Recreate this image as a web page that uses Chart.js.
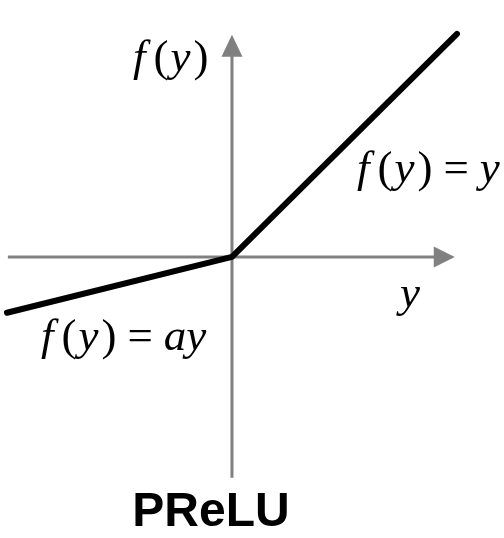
<!DOCTYPE html>
<html>
<head>
<meta charset="utf-8">
<script src="https://cdn.jsdelivr.net/npm/chart.js@4.4.1/dist/chart.umd.min.js"></script>
<style>
  html, body { margin: 0; padding: 0; background: #fff; }
  #wrap { width: 504px; height: 538px; }
</style>
</head>
<body>
<div id="wrap"><canvas id="myChart"></canvas></div>
<script>
// PReLU: f(y) = y for y > 0, f(y) = a*y for y <= 0
const xValues = [-1, 0, 1];
const yValues = [-0.25, 0, 1];
const xRange = [-1.031, 1.209];
const yRange = [-1.26, 1.152];
const title = 'PReLU';

const serif = '"Liberation Serif", "Times New Roman", serif';

// draws a math label made of pieces: [text, italic, gapAfter]
function drawMath(ctx, parts, x, y, size) {
    ctx.textBaseline = 'alphabetic';
    ctx.textAlign = 'left';
    parts.forEach(p => {
        ctx.font = (p[1] ? 'italic ' : '') + size + 'px ' + serif;
        ctx.fillText(p[0], x, y);
        x += ctx.measureText(p[0]).width + (p[2] || 0);
    });
}

const axesPlugin = {
    id: 'axesPlugin',
    beforeDatasetsDraw(chart) {
        const ctx = chart.ctx;
        const xs = chart.scales.x, ys = chart.scales.y;
        const x0 = xs.getPixelForValue(0), y0 = ys.getPixelForValue(0);
        const gray = '#808080';
        ctx.save();
        ctx.strokeStyle = gray;
        ctx.fillStyle = gray;
        ctx.lineWidth = 3;
        // horizontal axis
        const xl = xs.getPixelForValue(-0.996), xr = xs.getPixelForValue(0.99);
        ctx.beginPath();
        ctx.moveTo(xl, y0);
        ctx.lineTo(xr - 18, y0);
        ctx.stroke();
        ctx.beginPath();
        ctx.moveTo(xr, y0);
        ctx.lineTo(xr - 21, y0 - 10.5);
        ctx.lineTo(xr - 21, y0 + 10.5);
        ctx.closePath();
        ctx.fill();
        // vertical axis
        const yb = ys.getPixelForValue(-0.99), yt = ys.getPixelForValue(0.996);
        ctx.beginPath();
        ctx.moveTo(x0, yb);
        ctx.lineTo(x0, yt + 18);
        ctx.stroke();
        ctx.beginPath();
        ctx.moveTo(x0, yt);
        ctx.lineTo(x0 - 10.5, yt + 22);
        ctx.lineTo(x0 + 10.5, yt + 22);
        ctx.closePath();
        ctx.fill();
        ctx.restore();
    },
    afterDraw(chart) {
        const ctx = chart.ctx;
        ctx.save();
        ctx.fillStyle = '#000';
        const fy = [['f', true, 8], ['(', false, 2], ['y', true, 3], [')', false, 0]];
        const eq = [['', false, 11], ['=', false, 11]];
        drawMath(ctx, fy, 133, 71, 45);
        drawMath(ctx, fy.concat(eq, [['y', true, 0]]), 357, 182, 45);
        drawMath(ctx, fy.concat(eq, [['ay', true, 0]]), 41, 350, 45);
        drawMath(ctx, [['y', true, 0]], 400, 307, 45);
        ctx.font = 'bold 48px "Liberation Sans", Arial, sans-serif';
        ctx.textAlign = 'center';
        ctx.textBaseline = 'alphabetic';
        ctx.fillText(title, 211, 526);
        ctx.restore();
    }
};

new Chart('myChart', {
    type: 'line',
    data: {
        datasets: [{
            data: xValues.map((v, i) => ({ x: v, y: yValues[i] })),
            borderColor: '#000',
            borderWidth: 6,
            borderCapStyle: 'round',
            borderJoinStyle: 'round',
            pointRadius: 0,
            fill: false,
            tension: 0
        }]
    },
    plugins: [axesPlugin],
    options: {
        responsive: true,
        maintainAspectRatio: false,
        animation: false,
        layout: { padding: 0 },
        plugins: {
            legend: { display: false },
            tooltip: { enabled: false }
        },
        scales: {
            x: { type: 'linear', min: xRange[0], max: xRange[1], display: false },
            y: { type: 'linear', min: yRange[0], max: yRange[1], display: false }
        }
    }
});
</script>
</body>
</html>
